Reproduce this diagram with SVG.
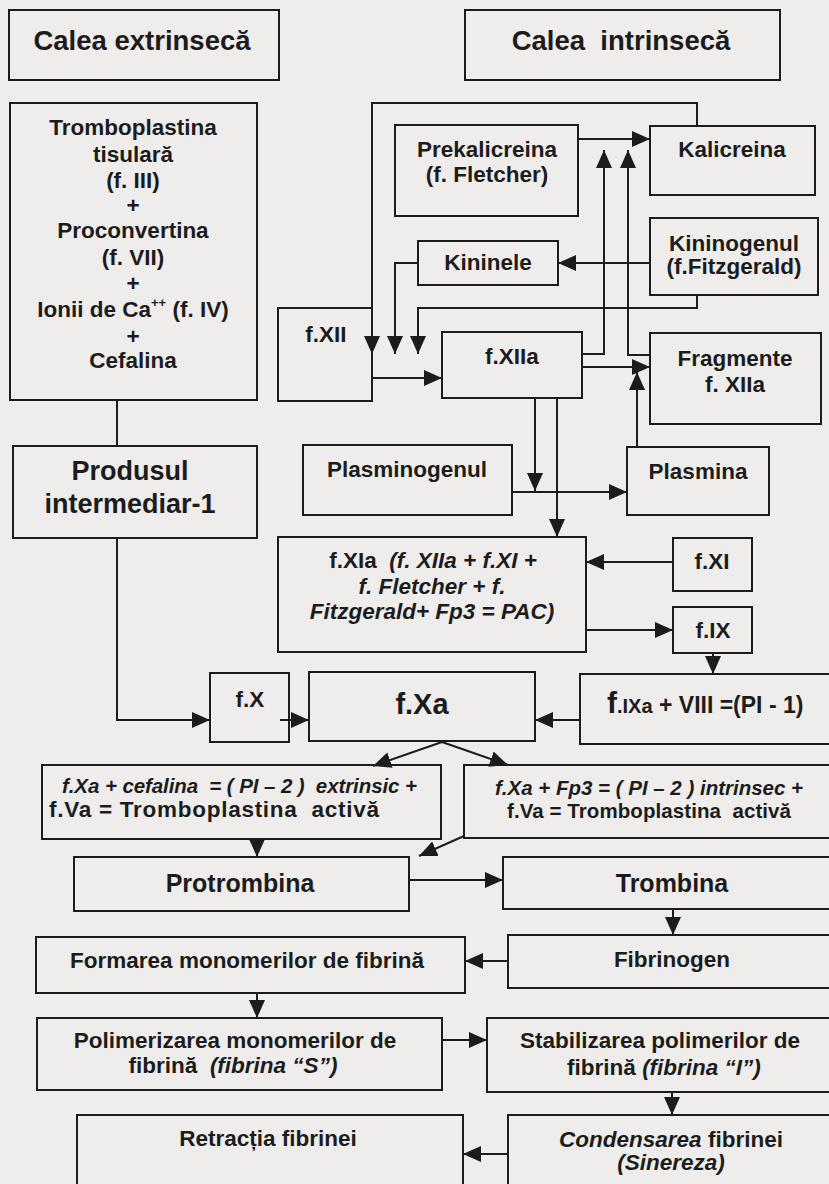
<svg xmlns="http://www.w3.org/2000/svg" width="829" height="1184" viewBox="0 0 829 1184">
<style>
  .bg { fill: #eeedeb; }
  .box { fill: none; stroke: #1c1c1c; stroke-width: 2; }
  .t { font-family: "Liberation Sans", Arial, sans-serif; font-weight: bold; fill: #1c1c1c; font-size: 22.5px; text-anchor: middle; white-space: pre; }
  .ttl { font-size: 27.5px; }
  .big { font-size: 27px; }
  .mid { font-size: 25px; }
  .fxa { font-size: 29px; }
  .pi { font-size: 20.5px; }
  .st { text-anchor: start; }
  .i { font-style: italic; }
  .c { fill: none; stroke: #1c1c1c; stroke-width: 2; marker-end: url(#ah); }
  .cn { fill: none; stroke: #1c1c1c; stroke-width: 2; }
</style>
<defs>
  <marker id="ah" markerUnits="userSpaceOnUse" markerWidth="19" markerHeight="17" refX="18" refY="8" orient="auto">
    <path d="M0,0 L18,8 L0,16 Z" fill="#1c1c1c"/>
  </marker>
</defs>
<rect class="bg" x="0" y="0" width="829" height="1184"/>

<g id="connectors">
  <path class="cn" d="M117,400 V446"/>
  <path class="c" d="M117,538 V720 H210"/>
  <path class="c" d="M280,720 H309"/>
  <path class="c" d="M580,720 H535"/>
  <path class="c" d="M713,653 V674"/>
  <path class="c" d="M586,630 H673"/>
  <path class="c" d="M673,562 H586"/>
  <path class="c" d="M442,742 L373,766"/>
  <path class="c" d="M442,742 L508,765"/>
  <path class="c" d="M257,839 V857"/>
  <path class="c" d="M464,836 L419,856"/>
  <path class="c" d="M409,880 H503"/>
  <path class="c" d="M673,909 V935"/>
  <path class="c" d="M508,961 H465"/>
  <path class="c" d="M257,993 V1018"/>
  <path class="c" d="M442,1040 H487"/>
  <path class="c" d="M672,1092 V1115"/>
  <path class="c" d="M508,1154 H463"/>
  <path class="c" d="M697,126 V103 H372 V354"/>
  <path class="c" d="M418,263 H395 V354"/>
  <path class="c" d="M697,295 V308 H418 V354"/>
  <path class="c" d="M372,378 H442"/>
  <path class="c" d="M578,139 H650"/>
  <path class="c" d="M650,263 H558"/>
  <path class="c" d="M582,354 H604 V150"/>
  <path class="c" d="M650,355 H628 V150"/>
  <path class="c" d="M582,367 H650"/>
  <path class="c" d="M637,447 V372"/>
  <path class="c" d="M535,398 V491"/>
  <path class="c" d="M557,398 V537"/>
  <path class="c" d="M512,492 H627"/>
</g>

<g id="n-ext-title">
  <rect class="box" x="9" y="10" width="270" height="70"/>
  <text class="t ttl" x="142" y="50">Calea extrinsecă</text>
</g>
<g id="n-int-title">
  <rect class="box" x="465" y="10" width="315" height="70"/>
  <text class="t ttl" x="621" y="50">Calea  intrinsecă</text>
</g>
<g id="n-ext-factors">
  <rect class="box" x="10" y="103" width="247" height="297"/>
  <text class="t" x="133" y="135">Tromboplastina</text>
  <text class="t" x="133" y="162">tisulară</text>
  <text class="t" x="133" y="188">(f. III)</text>
  <text class="t" x="133" y="213">+</text>
  <text class="t" x="133" y="238">Proconvertina</text>
  <text class="t" x="133" y="265">(f. VII)</text>
  <text class="t" x="133" y="291">+</text>
  <text class="t" x="133" y="317">Ionii de Ca<tspan font-size="13" dy="-10">++</tspan><tspan dy="10"> (f. IV)</tspan></text>
  <text class="t" x="133" y="344">+</text>
  <text class="t" x="133" y="368">Cefalina</text>
</g>
<g id="n-prekalicreina">
  <rect class="box" x="395" y="125" width="183" height="91"/>
  <text class="t" x="487" y="157">Prekalicreina</text>
  <text class="t" x="487" y="182">(f. Fletcher)</text>
</g>
<g id="n-kalicreina">
  <rect class="box" x="650" y="126" width="165" height="69"/>
  <text class="t" x="732" y="157">Kalicreina</text>
</g>
<g id="n-kininele">
  <rect class="box" x="418" y="241" width="140" height="44"/>
  <text class="t" x="488" y="270">Kininele</text>
</g>
<g id="n-kininogenul">
  <rect class="box" x="650" y="218" width="168" height="77"/>
  <text class="t" x="734" y="251">Kininogenul</text>
  <text class="t" x="734" y="274">(f.Fitzgerald)</text>
</g>
<g id="n-fxii">
  <rect class="box" x="278" y="308" width="94" height="93"/>
  <text class="t" x="326" y="342">f.XII</text>
</g>
<g id="n-fxiia">
  <rect class="box" x="442" y="332" width="140" height="66"/>
  <text class="t" x="512" y="364">f.XIIa</text>
</g>
<g id="n-fragmente">
  <rect class="box" x="650" y="333" width="171" height="91"/>
  <text class="t" x="735" y="366">Fragmente</text>
  <text class="t" x="735" y="392">f. XIIa</text>
</g>
<g id="n-produsul">
  <rect class="box" x="13" y="446" width="244" height="92"/>
  <text class="t big" x="130" y="480">Produsul</text>
  <text class="t big" x="130" y="513">intermediar-1</text>
</g>
<g id="n-plasminogenul">
  <rect class="box" x="303" y="445" width="209" height="70"/>
  <text class="t" x="407" y="477">Plasminogenul</text>
</g>
<g id="n-plasmina">
  <rect class="box" x="627" y="447" width="142" height="68"/>
  <text class="t" x="698" y="479">Plasmina</text>
</g>
<g id="n-fxia">
  <rect class="box" x="278" y="537" width="308" height="115"/>
  <text class="t" x="433" y="568">f.XIa  <tspan class="i">(f. XIIa + f.XI +</tspan></text>
  <text class="t i" x="432" y="594">f. Fletcher + f.</text>
  <text class="t i" x="432" y="619">Fitzgerald+ Fp3 = PAC)</text>
</g>
<g id="n-fxi">
  <rect class="box" x="673" y="538" width="79" height="53"/>
  <text class="t" x="712" y="569">f.XI</text>
</g>
<g id="n-fix">
  <rect class="box" x="673" y="607" width="79" height="46"/>
  <text class="t" x="713" y="638">f.IX</text>
</g>
<g id="n-fx">
  <rect class="box" x="210" y="673" width="79" height="69"/>
  <text class="t" x="250" y="707">f.X</text>
</g>
<g id="n-fxa">
  <rect class="box" x="309" y="672" width="226" height="69"/>
  <text class="t fxa" x="422" y="714">f.Xa</text>
</g>
<g id="n-fixa">
  <rect class="box" x="580" y="674" width="260" height="70"/>
  <text class="t st" x="607" y="713"><tspan font-size="30">f</tspan><tspan font-size="20">.IXa</tspan><tspan font-size="23"> + VIII =(PI - 1)</tspan></text>
</g>
<g id="n-pi2-ext">
  <rect class="box" x="42" y="765" width="399" height="74"/>
  <text class="t st i pi" x="62" y="793" textLength="355">f.Xa + cefalina  = ( PI – 2 )  extrinsic +</text>
  <text class="t st" x="49" y="817" textLength="330">f.Va = Tromboplastina  activă</text>
</g>
<g id="n-pi2-int">
  <rect class="box" x="464" y="765" width="376" height="73"/>
  <text class="t st i pi" x="495" y="795" textLength="308">f.Xa + Fp3 = ( PI – 2 ) intrinsec +</text>
  <text class="t st pi" x="507" y="818" textLength="284">f.Va = Tromboplastina  activă</text>
</g>
<g id="n-protrombina">
  <rect class="box" x="74" y="857" width="335" height="54"/>
  <text class="t mid" x="240" y="892">Protrombina</text>
</g>
<g id="n-trombina">
  <rect class="box" x="503" y="857" width="337" height="52"/>
  <text class="t mid" x="672" y="892">Trombina</text>
</g>
<g id="n-formarea">
  <rect class="box" x="36" y="937" width="429" height="56"/>
  <text class="t" x="247" y="968">Formarea monomerilor de fibrină</text>
</g>
<g id="n-fibrinogen">
  <rect class="box" x="508" y="935" width="332" height="53"/>
  <text class="t" x="672" y="967">Fibrinogen</text>
</g>
<g id="n-polimerizarea">
  <rect class="box" x="37" y="1018" width="405" height="72"/>
  <text class="t" x="235" y="1048">Polimerizarea monomerilor de</text>
  <text class="t" x="233" y="1073">fibrină  <tspan class="i">(fibrina “S”)</tspan></text>
</g>
<g id="n-stabilizarea">
  <rect class="box" x="487" y="1018" width="353" height="74"/>
  <text class="t" x="660" y="1048">Stabilizarea polimerilor de</text>
  <text class="t" x="664" y="1075">fibrină <tspan class="i">(fibrina “I”)</tspan></text>
</g>
<g id="n-retractia">
  <rect class="box" x="77" y="1115" width="386" height="80"/>
  <text class="t" x="268" y="1146">Retracția fibrinei</text>
</g>
<g id="n-condensarea">
  <rect class="box" x="508" y="1115" width="332" height="80"/>
  <text class="t" x="671" y="1147"><tspan class="i">Condensarea</tspan> fibrinei</text>
  <text class="t i" x="671" y="1170">(Sinereza)</text>
</g>
</svg>
